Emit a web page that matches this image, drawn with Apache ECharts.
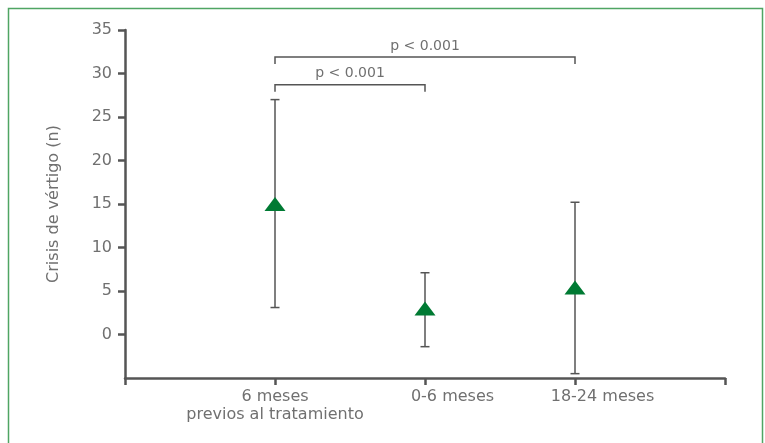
<!DOCTYPE html>
<html>
<head>
<meta charset="utf-8">
<script src="https://cdn.jsdelivr.net/npm/echarts@6/dist/echarts.min.js"></script>
<style>
  html, body { margin: 0; padding: 0; background: #fff; }
  #chart { width: 765px; height: 443px; }
</style>
</head>
<body>
<div id="chart"></div>
<script>
// Groups on the horizontal axis (positions 1..3 of a 0..4 axis)
const categories = ['6 meses\nprevios al tratamiento', '0-6 meses', '18-24 meses'];
// Mean number of vertigo crises per period
const means = [15, 3.0, 5.4];
// Lower and upper ends of the error bars
const lowers = [3.1, -1.4, -4.5];
const uppers = [27, 7.1, 15.2];
// Significance brackets: [from group, to group, level, text]
const brackets = [
  [1, 2, 28.7, 'p < 0.001'],
  [1, 3, 31.9, 'p < 0.001']
];
const yTicks = [0, 5, 10, 15, 20, 25, 30, 35];

const FONT = '"DejaVu Sans", "Open Sans", sans-serif';
const AXIS = '#555';
const TXT = '#707070';
const GREEN = '#007a33';

const chart = echarts.init(document.getElementById('chart'), null, { renderer: 'canvas' });

const errData = means.map((m, i) => [i + 1, lowers[i], uppers[i]]);
const pointData = means.map((m, i) => [i + 1, m]);

const labelStyle = { color: TXT, fontFamily: FONT, fontSize: 16, lineHeight: 18 };

chart.setOption({
  animation: false,
  backgroundColor: '#fff',
  graphic: [{
    type: 'rect',
    shape: { x: 8.5, y: 8.5, width: 754, height: 500 },
    style: { fill: 'none', stroke: '#4fa563', lineWidth: 1.5 },
    silent: true
  }],
  grid: { left: 125, right: 40, top: 30, bottom: 65, containLabel: false },
  xAxis: [
    {
      // main axis: line, ticks and the first group label
      type: 'value', min: 0, max: 4, interval: 1, position: 'bottom',
      axisLine: { show: true, onZero: false, lineStyle: { color: AXIS, width: 2.5 } },
      axisTick: { show: true, length: 7, lineStyle: { color: AXIS, width: 2.5 } },
      splitLine: { show: false },
      axisLabel: Object.assign({
        margin: 10, hideOverlap: false, customValues: [1],
        formatter: v => categories[v - 1] || ''
      }, labelStyle)
    },
    {
      // labels of the follow-up groups, set slightly to the right of their ticks
      type: 'value', min: 0, max: 4, interval: 1, position: 'bottom',
      axisLine: { show: false, onZero: false },
      axisTick: { show: false },
      splitLine: { show: false },
      axisLabel: {
        margin: 10, hideOverlap: false, customValues: [2, 3],
        formatter: v => '{s|' + (categories[v - 1] || '') + '}',
        rich: { s: Object.assign({ padding: [0, 0, 0, 55] }, labelStyle) }
      }
    }
  ],
  yAxis: {
    type: 'value', min: -5, max: 35, interval: 5,
    name: 'Crisis de vértigo (n)', nameLocation: 'middle', nameGap: 63,
    nameTextStyle: { color: TXT, fontFamily: FONT, fontSize: 16 },
    axisLine: { show: true, lineStyle: { color: AXIS, width: 2.5 } },
    axisTick: { show: true, length: 7, customValues: yTicks, lineStyle: { color: AXIS, width: 2.5 } },
    splitLine: { show: false },
    axisLabel: {
      color: TXT, fontFamily: FONT, fontSize: 16, margin: 13,
      customValues: yTicks
    }
  },
  series: [
    {
      type: 'custom',
      name: 'error',
      data: errData,
      z: 2,
      renderItem: function (params, api) {
        const x = api.value(0);
        const lo = api.coord([x, api.value(1)]);
        const hi = api.coord([x, api.value(2)]);
        const w = 4.5;
        const st = { stroke: AXIS, lineWidth: 1.5, fill: 'none' };
        return {
          type: 'group',
          children: [
            { type: 'line', shape: { x1: lo[0], y1: lo[1], x2: hi[0], y2: hi[1] }, style: st },
            { type: 'line', shape: { x1: lo[0] - w, y1: lo[1], x2: lo[0] + w, y2: lo[1] }, style: st },
            { type: 'line', shape: { x1: hi[0] - w, y1: hi[1], x2: hi[0] + w, y2: hi[1] }, style: st }
          ]
        };
      }
    },
    {
      type: 'custom',
      name: 'brackets',
      data: brackets,
      z: 2,
      renderItem: function (params, api) {
        const a = api.coord([api.value(0), api.value(2)]);
        const b = api.coord([api.value(1), api.value(2)]);
        const drop = 7;
        const st = { stroke: AXIS, lineWidth: 1.5, fill: 'none' };
        return {
          type: 'group',
          children: [
            { type: 'polyline', shape: { points: [[a[0], a[1] + drop], [a[0], a[1]], [b[0], b[1]], [b[0], b[1] + drop]] }, style: st },
            { type: 'text', x: (a[0] + b[0]) / 2, y: a[1] - 4,
              style: { text: brackets[params.dataIndex][3], fill: TXT, font: '14px ' + FONT, textAlign: 'center', textVerticalAlign: 'bottom' } }
          ]
        };
      }
    },
    {
      type: 'scatter',
      name: 'media',
      data: pointData,
      symbol: 'triangle',
      symbolSize: [21, 14],
      itemStyle: { color: GREEN, opacity: 1 },
      z: 5
    }
  ]
});
</script>
</body>
</html>
